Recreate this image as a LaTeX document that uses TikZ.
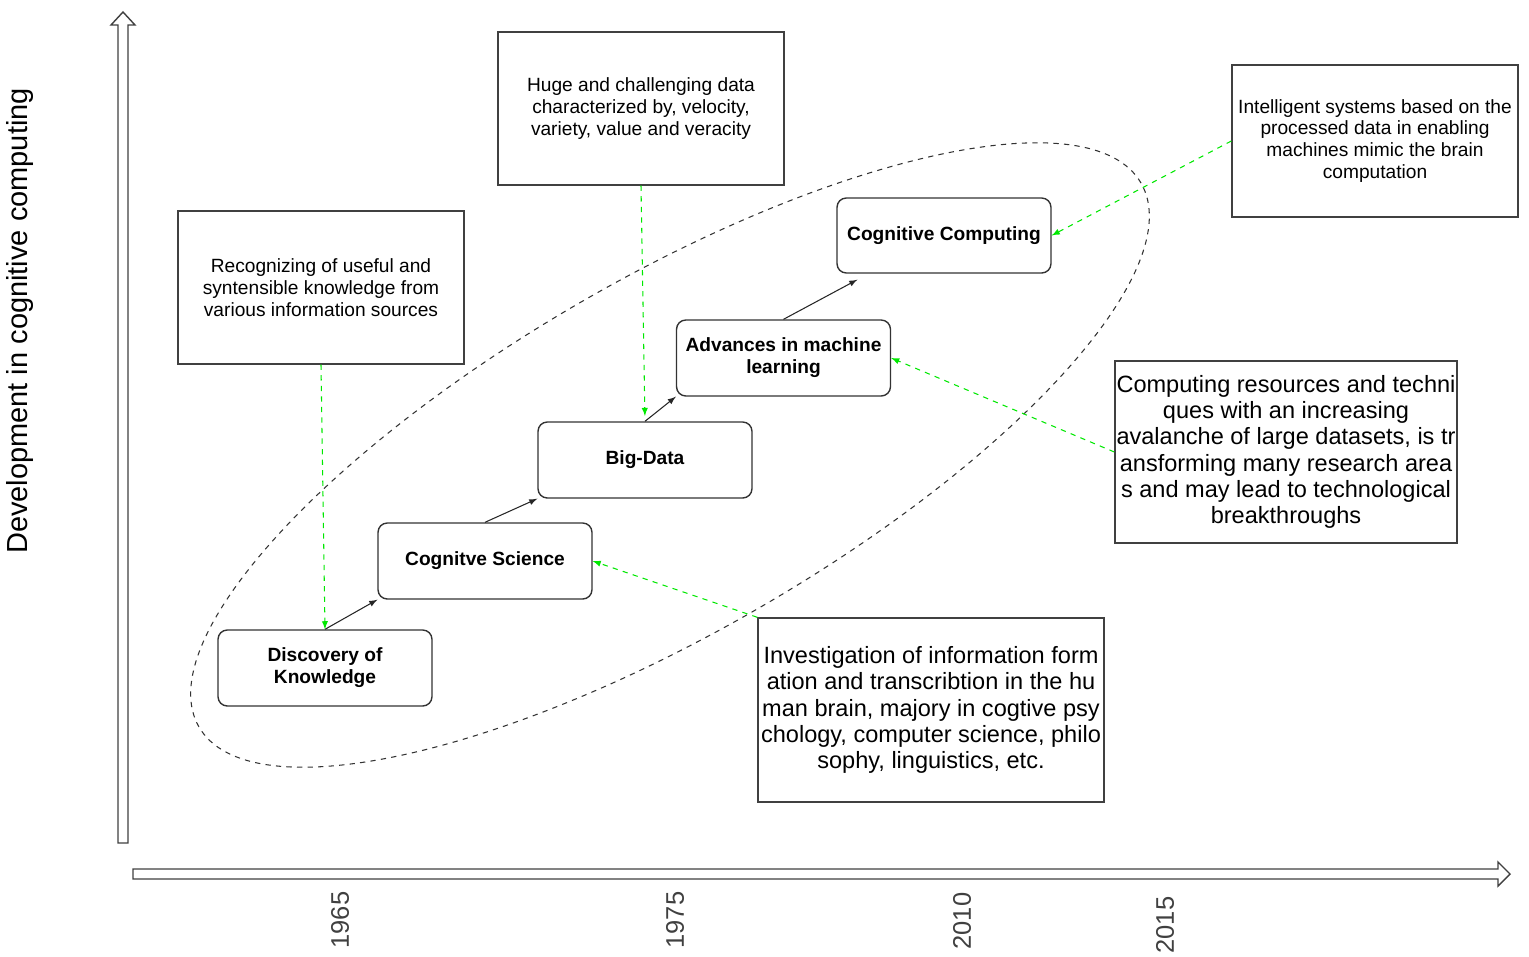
\documentclass[tikz,border=0pt]{standalone}
\usepackage{fontspec}
\setmainfont{Liberation Sans}
\usepackage{tikz}
\usetikzlibrary{arrows,shapes,calc}
\def\notew{5.72cm}
\def\stagew{4.28cm}
\tikzset{
	every node/.style={
		font=\fontsize{10.9}{12.5}\selectfont
	},
	note/.style={
		shape=rectangle,
		draw=black!75,
		line width=0.8pt,
		minimum width=\notew,
		minimum height=3.06cm,
		inner sep=0pt,
		align=center
	},
	bignote/.style={
		note,
		font=\fontsize{13.4}{15}\selectfont
	},
	stage/.style={
		shape=rectangle,
		minimum width=\stagew,
		minimum height=1.52cm,
		inner sep=0pt,
		align=center,
		rounded corners=1ex,
		line width=0.8pt,
		draw=black!80,
		font=\fontsize{10.9}{12.5}\selectfont\bfseries
	},
	myarrow/.style={-latex, black!85, line width=0.6pt},
	hint/.style={-latex, green!85!black!60!green, dashed, line width=0.6pt},
}

\begin{document}
\begin{tikzpicture}[x=0.02cm, y=-0.02cm]
	\tikzstyle{year}=[rotate=90, text=black!75, font=\fontsize{14.5}{16}\selectfont]
	\tikzstyle{axis}=[draw=black!75, line width=0.8pt, fill=white]
	\useasboundingbox (0,0) rectangle (1529,957);

	\draw[axis] (118,843) -- (118,25) -- (111,25) -- (123,12) -- (135,25) -- (128,25) -- (128,843) -- cycle;
	\draw[axis] (133,869) -- (1498,869) -- (1498,862) -- (1510,874) -- (1498,886) -- (1498,879) -- (133,879) -- cycle;
	\node[rotate=90, font=\fontsize{16.5}{19}\selectfont] (ylab) at (20,321) {Development in cognitive computing};

	\node[year] (y1965) at (340,920) {1965};
	\node[year] (y1975) at (675,920) {1975};
	\node[year] (y2010) at (962,921) {2010};
	\node[year] (y2015) at (1165,925) {2015};

	\draw[dashed, black!80, line width=0.6pt, rotate around={30:(670,455)}] (670,455) ellipse [x radius=10.88cm, y radius=3.54cm];

	\node[note] (rec) at (321,287.5) {Recognizing of useful and\\syntensible knowledge from\\various information sources};
	\node[note] (huge) at (641,108.5) {Huge and challenging data\\characterized by, velocity,\\variety, value and veracity};
	\node[note, minimum height=3.04cm] (intel) at (1375,141) {Intelligent systems based on the\\processed data in enabling\\machines mimic the brain\\computation};
	\node[bignote, minimum width=6.84cm, minimum height=3.64cm] (comp) at (1286,452) {Computing resources and techni\\ques with an increasing\\avalanche of large datasets, is tr\\ansforming many research area\\s and may lead to technological\\breakthroughs};
	\node[bignote, minimum width=6.92cm, minimum height=3.68cm] (inv) at (931,710) {Investigation of information form\\ation and transcribtion in the hu\\man brain, majory in cogtive psy\\chology, computer science, philo\\sophy, linguistics, etc.};

	\node[stage] (disc) at (325,668) {Discovery of\\Knowledge};
	\node[stage] (cogsci) at (485,561) {Cognitve Science};
	\node[stage] (bigdata) at (645,460) {Big-Data};
	\node[stage] (adv) at (783.5,358) {Advances in machine\\learning};
	\node[stage, minimum height=1.5cm] (cogcomp) at (944,235.5) {Cognitive Computing};

	\draw[myarrow] (disc.north) -- (cogsci.south west);
	\draw[myarrow] (cogsci.north) -- (bigdata.south west);
	\draw[myarrow] (bigdata.north) -- (adv.south west);
	\draw[myarrow] (adv.north) -- ($(cogcomp.south west)+(21,6)$);

	\draw[hint] (rec.south) -- (disc.north);
	\draw[hint, shorten >=3pt] (huge.south) -- (bigdata.north);
	\draw[hint] (intel.west) -- (cogcomp.east);
	\draw[hint] (comp.west) -- (adv.east);
	\draw[hint] (inv.north west) -- (cogsci.east);
\end{tikzpicture}
\end{document}
